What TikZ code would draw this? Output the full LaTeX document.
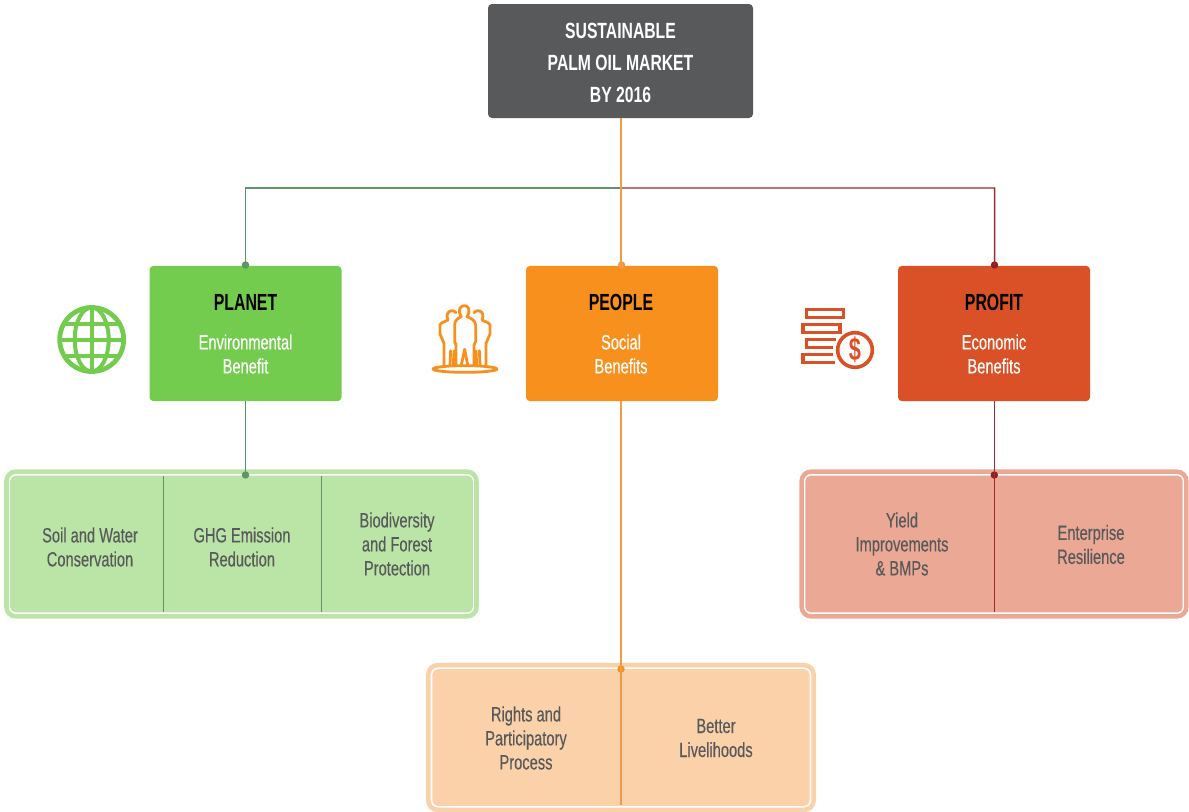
\documentclass[tikz,border=0pt]{standalone}
\usepackage{fontspec}
\setmainfont[FakeStretch=0.71,FakeBold=0.25]{Liberation Sans}
\newfontfamily\heavyfont[FakeStretch=0.68]{Liberation Sans Bold}
\newfontfamily\topfont[FakeStretch=0.715]{Liberation Sans Bold}
\definecolor{topgray}{HTML}{58595B}
\definecolor{txtgray}{HTML}{58595B}
\definecolor{pgreen}{HTML}{74CC4E}
\definecolor{porange}{HTML}{F8901E}
\definecolor{pred}{HTML}{DB5127}
\definecolor{lgreen}{HTML}{BBE5A7}
\definecolor{lorange}{HTML}{FBD1A9}
\definecolor{lred}{HTML}{EBA894}
\definecolor{cgreen}{HTML}{5E9467}
\definecolor{corange}{HTML}{EE9C48}
\definecolor{cred}{HTML}{9E2A2E}
\definecolor{dred}{HTML}{8E1F24}
\tikzset{
  x=0.75pt,y=-0.75pt,
  topbox/.style={fill=topgray,rounded corners=3pt,minimum width=198.75pt,minimum height=85.5pt,inner sep=0pt},
  toptext/.style={text=white,inner sep=0pt,align=center,font=\fontsize{16.5}{24}\selectfont\topfont},
  pillar/.style={rounded corners=3pt,minimum width=144pt,minimum height=101.5pt,inner sep=0pt},
  head/.style={text=black,font=\fontsize{17.5}{20}\selectfont\heavyfont,inner sep=0pt},
  sub/.style={text=white,align=center,font=\fontsize{15.5}{18}\selectfont,inner sep=0pt},
  item/.style={text=txtgray,align=center,font=\fontsize{15.5}{18}\selectfont,inner sep=0pt},
  outer/.style={rounded corners=7pt,line width=3.4pt,fill=white,inner sep=0pt},
  inner/.style={rounded corners=4pt,inner sep=0pt},
  dot/.style={circle,fill,inner sep=0pt,minimum size=5.6pt},
  conn/.style={line width=1.1pt},
  icon/.style={line width=2.1pt,line join=round,line cap=round},
}
\begin{document}
\begin{tikzpicture}
\useasboundingbox (0,0) rectangle (1189,811);
% top box
\node[topbox] (top) at (620.5,61) {};
\node[toptext] (topT) at (620.5,62.5) {SUSTAINABLE\\PALM OIL MARKET\\BY 2016};
% pillars
\node[pillar,fill=pgreen] (planet) at (245.5,333.5) {};
\node[pillar,fill=porange] (people) at (622,333.5) {};
\node[pillar,fill=pred] (profit) at (994,333.5) {};
\node[head] (planetH) at (245.5,302) {PLANET};
\node[head] (peopleH) at (621,302) {PEOPLE};
\node[head] (profitH) at (994,302) {PROFIT};
\node[sub] (planetS) at (245.5,354) {Environmental\\Benefit};
\node[sub] (peopleS) at (621,354) {Social\\Benefits};
\node[sub] (profitS) at (994,354) {Economic\\Benefits};
% panels
\node[outer,draw=lgreen,minimum width=352.5pt,minimum height=108.5pt] (gout) at (241.5,544) {};
\node[inner,fill=lgreen,minimum width=347pt,minimum height=102.5pt] (gin) at (241.5,544) {};
\node[outer,draw=lred,minimum width=288.5pt,minimum height=108.5pt] (rout) at (994,544) {};
\node[inner,fill=lred,minimum width=283pt,minimum height=102.5pt] (rin) at (994,544) {};
\node[outer,draw=lorange,minimum width=289pt,minimum height=108.5pt] (oout) at (621,737.5) {};
\node[inner,fill=lorange,minimum width=283pt,minimum height=102.5pt] (oin) at (621,737.5) {};
% connectors
\coordinate (hub) at (621,188);
\coordinate (gcorner) at (245.5,188);
\coordinate (rcorner) at (994.7,188);
\coordinate (gdiv1t) at (163.3,476);\coordinate (gdiv1b) at (163.3,612);
\coordinate (gdiv2t) at (321.5,476);\coordinate (gdiv2b) at (321.5,612);
\coordinate (rdivb) at (994.3,612);
\coordinate (odivb) at (621,805);
\node[dot,fill=cgreen] (d1) at (245.5,265) {};
\node[dot,fill=corange] (d2) at (621.5,265) {};
\node[dot,fill=dred] (d3) at (994.5,265) {};
\node[dot,fill=cgreen] (d4) at (245.5,475) {};
\node[dot,fill=dred] (d5) at (994.3,475) {};
\node[dot,fill=porange] (d6) at (621,669) {};
\draw[conn,cgreen] (hub) -- (gcorner) -- (d1.center);
\draw[conn,cred] (hub) -- (rcorner) -- (d3.center);
\draw[conn,corange] (top.south -| hub) -- (d2.center -| hub);
\draw[conn,cgreen] (planet.south) -- (d4.center);
\draw[conn,cred] (profit.south -| d5) -- (d5.center);
\draw[conn,corange] (people.south -| d6) -- (d6.center);
\draw[conn,cgreen] (gdiv1t) -- (gdiv1b);
\draw[conn,cgreen] (gdiv2t) -- (gdiv2b);
\draw[conn,cred] (d5.center) -- (rdivb);
\draw[conn,corange] (d6.center) -- (odivb);
% items
\node[item] (i1) at (90,547) {Soil and Water\\Conservation};
\node[item] (i2) at (242,547) {GHG Emission\\Reduction};
\node[item] (i3) at (397,544) {Biodiversity\\and Forest\\Protection};
\node[item] (i4) at (902,544) {Yield\\Improvements\\\& BMPs};
\node[item] (i5) at (1091,544.5) {Enterprise\\Resilience};
\node[item] (i6) at (526,738) {Rights and\\Participatory\\Process};
\node[item] (i7) at (716,738) {Better\\Livelihoods};
% globe icon
\begin{scope}[shift={(91.7,339.5)},pgreen,line width=3pt]
\draw[line width=3.6pt] (0,0) circle[radius=32];
\draw (0,-32) -- (0,32);
\draw (-32,0) -- (32,0);
\draw (0,0) ellipse[x radius=17,y radius=32];
\draw (-28,-16) -- (28,-16);
\draw (-28,16) -- (28,16);
\end{scope}
% people icon
\begin{scope}[shift={(420,290)},x=0.25pt,y=-0.25pt,porange,icon]
\draw (135,237) ellipse[x radius=96,y radius=10];
\draw (108,225) -- (108,165) -- (104,155) -- (104,105) .. controls (104,90) and (115,84) .. (124,80)
  .. controls (112,60) and (120,47) .. (133,47) .. controls (146,47) and (153,60) .. (141,80)
  .. controls (151,84) and (166,90) .. (167,105) -- (167,155) -- (162,165) -- (162,225);
\draw (124,225) -- (134,178) -- (143,225);
\draw (72,225) -- (72,160) -- (60,132) -- (60,106) .. controls (60,98) and (75,95) .. (84,90)
  .. controls (76,75) and (85,62) .. (95,62) .. controls (100,62) and (105,64) .. (108,68);
\draw (90,225) -- (92,182);
\draw (102,182) -- (100,225);
\draw (198,225) -- (198,160) -- (210,132) -- (210,106) .. controls (210,98) and (195,95) .. (186,90)
  .. controls (194,75) and (185,62) .. (175,62) .. controls (170,62) and (165,64) .. (162,68);
\draw (180,225) -- (178,182);
\draw (168,182) -- (170,225);
\end{scope}
% coins icon
\begin{scope}[shift={(790,295)},x=0.25pt,y=-0.25pt,pred,line width=2.7pt,line join=miter]
\draw (50,43) rectangle (161,67);
\draw (39,88) rectangle (150,112);
\draw (138,134) -- (50,134) -- (50,158) -- (128,158);
\draw (128,179) -- (39,179) -- (39,203) -- (135,203);
\draw (195,165) circle[radius=52];
\node[inner sep=0pt,text=pred,font=\fontsize{24}{24}\selectfont\heavyfont] (dollar) at (195,165) {\$};
\end{scope}
\end{tikzpicture}
\end{document}
